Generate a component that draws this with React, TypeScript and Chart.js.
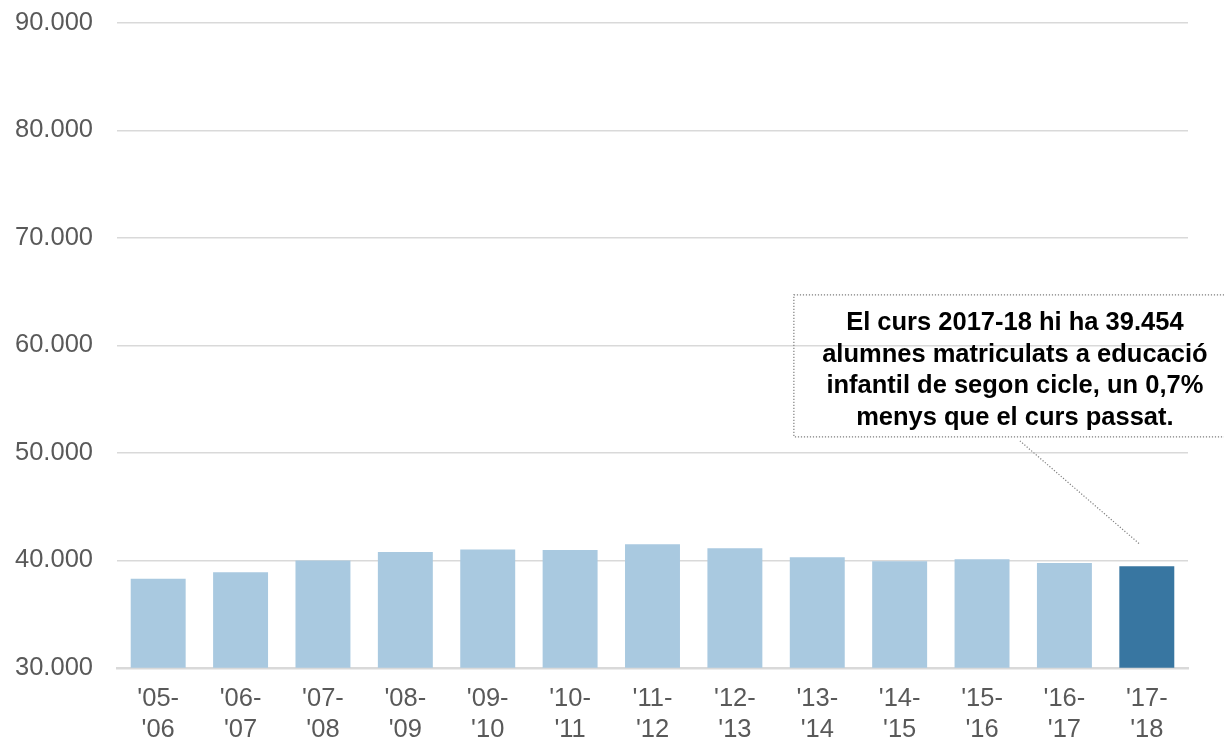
import React, { useEffect, useRef } from "react";
import { Chart, registerables } from "chart.js";

Chart.register(...registerables);

const categories: string[][] = [
  ["'05-", "'06"], ["'06-", "'07"], ["'07-", "'08"], ["'08-", "'09"], ["'09-", "'10"],
  ["'10-", "'11"], ["'11-", "'12"], ["'12-", "'13"], ["'13-", "'14"], ["'14-", "'15"],
  ["'15-", "'16"], ["'16-", "'17"], ["'17-", "'18"],
];
const students: number[] = [
  38280, 38900, 39990, 40780, 41010, 40950, 41500, 41130, 40280, 39920, 40100, 39760, 39454,
];
const yTicks: number[] = [30000, 40000, 50000, 60000, 70000, 80000, 90000];
const annotationLines: string[] = [
  "El curs 2017-18 hi ha 39.454",
  "alumnes matriculats a educació",
  "infantil de segon cicle, un 0,7%",
  "menys que el curs passat.",
];

const LIGHT = "#a9c9e0";
const DARK = "#3876a1";
const FONT = "'Liberation Sans', Arial, sans-serif";

const fmt = (v: number) => String(v).replace(/\B(?=(\d{3})+(?!\d))/g, ".");

const annotationPlugin = {
  id: "calloutNote",
  afterDatasetsDraw(chart: any) {
    const { ctx, chartArea, scales } = chart;
    const meta = chart.getDatasetMeta(0);
    const last = meta.data[meta.data.length - 1];
    if (!last) return;
    const x0 = chartArea.left + (chartArea.right - chartArea.left) * 0.632;
    const x1 = chart.width + 40;
    const top = scales.y.getPixelForValue(64700);
    const bottom = scales.y.getPixelForValue(51490);
    ctx.save();
    ctx.strokeStyle = "#7f7f7f";
    ctx.lineWidth = 1.2;
    ctx.setLineDash([1.2, 1.8]);
    ctx.strokeRect(x0, top, x1 - x0, bottom - top);
    ctx.beginPath();
    ctx.moveTo(x0 + 226, bottom + 4);
    ctx.lineTo(last.x - 7, last.y - 22);
    ctx.stroke();
    ctx.setLineDash([]);
    ctx.fillStyle = "#000";
    ctx.font = `bold 25.5px ${FONT}`;
    ctx.textAlign = "center";
    ctx.textBaseline = "middle";
    const cx = x0 + 221;
    const lh = 31.7;
    const startY = top + 28;
    annotationLines.forEach((t, i) => ctx.fillText(t, cx, startY + i * lh));
    ctx.restore();
  },
};

export default function App() {
  const ref = useRef<HTMLCanvasElement>(null);
  useEffect(() => {
    document.body.style.margin = "0";
    const c = ref.current!;
    const chart = new Chart(c, {
      type: "bar",
      data: {
        labels: categories,
        datasets: [
          {
            data: students,
            backgroundColor: students.map((_, i) => (i === students.length - 1 ? DARK : LIGHT)),
            borderWidth: 0,
            barPercentage: 0.667,
            categoryPercentage: 1,
          },
        ],
      },
      options: {
        animation: false,
        responsive: false,
        maintainAspectRatio: false,
        layout: { padding: { top: 23, right: 36, left: -9, bottom: -24 } },
        plugins: { legend: { display: false }, tooltip: { enabled: false } },
        scales: {
          x: {
            grid: { display: false, drawTicks: false },
            border: { display: true, color: "#d9d9d9", width: 2.5 },
            ticks: {
              color: "#595959",
              font: { family: FONT, size: 25.5, lineHeight: 1.22 },
              padding: 16,
              maxRotation: 0,
              autoSkip: false,
            },
          },
          y: {
            min: 30000,
            max: 90000,
            afterBuildTicks: (axis: any) => {
              axis.ticks = yTicks.map((v) => ({ value: v }));
            },
            afterFit: (axis: any) => {
              axis.paddingTop = 0;
              axis.paddingBottom = 0;
            },
            grid: { color: "#d9d9d9", lineWidth: 1.5, drawTicks: false },
            border: { display: false },
            ticks: {
              color: "#595959",
              font: { family: FONT, size: 25.5 },
              padding: 24,
              callback: (v: any) => fmt(Number(v)),
            },
          },
        },
      },
      plugins: [annotationPlugin],
    });
    return () => chart.destroy();
  }, []);
  return (
    <div style={{ position: "relative", width: 1224, height: 738 }}>
      <canvas ref={ref} width={1224} height={738} style={{ display: "block", width: 1224, height: 738 }} />
    </div>
  );
}
